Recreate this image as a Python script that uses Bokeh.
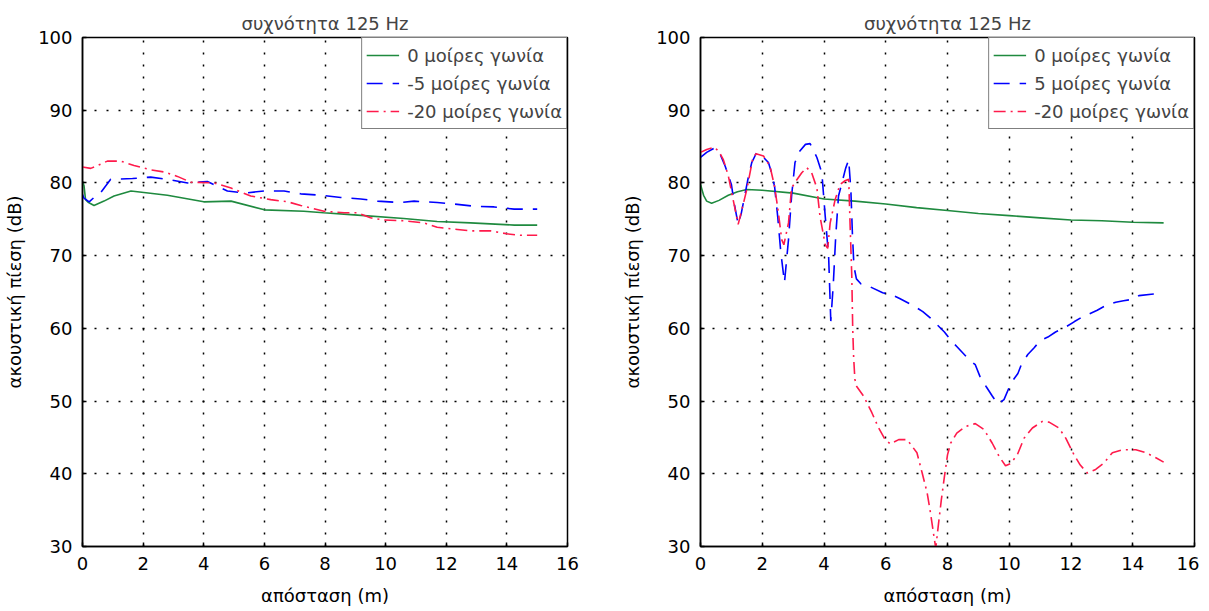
from bokeh.plotting import figure
from bokeh.layouts import row
from bokeh.models import Range1d, Legend, LegendItem, FixedTicker
from bokeh.embed import file_html
from bokeh.resources import INLINE

# ---------------- data ----------------
title_text = "συχνότητα 125 Hz"
x_label = "απόσταση (m)"
y_label = "ακουστική πίεση (dB)"
x_ticks = [0, 2, 4, 6, 8, 10, 12, 14, 16]
y_ticks = [30, 40, 50, 60, 70, 80, 90, 100]

# left panel
L_labels = ["0 μοίρες γωνία", "-5 μοίρες γωνία", "-20 μοίρες γωνία"]
L0_x = [0.0, 0.05, 0.1, 0.2, 0.38, 0.71, 1.04, 1.6, 2.8, 4.0, 4.9, 6.0, 7.3, 7.95, 8.96, 10.6, 11.7, 12.8, 14.25, 15.0]
L0_y = [80.2, 79.6, 77.7, 77.3, 76.9, 77.5, 78.2, 78.9, 78.3, 77.4, 77.5, 76.3, 76.1, 75.9, 75.6, 75.1, 74.7, 74.5, 74.2, 74.2]
L5_x = [0.0, 0.05, 0.22, 0.38, 0.55, 0.93, 1.65, 2.25, 2.8, 3.47, 4.12, 4.78, 5.33, 6.0, 6.65, 7.2, 7.87, 8.52, 9.18,
        9.73, 10.5, 10.94, 11.7, 12.26, 12.9, 13.58, 14.24, 15.0]
L5_y = [78.4, 77.9, 77.4, 78.0, 78.4, 80.5, 80.6, 80.8, 80.5, 80.0, 80.2, 78.9, 78.6, 78.9, 78.9, 78.5, 78.3, 78.0, 77.8,
        77.5, 77.3, 77.5, 77.3, 77.1, 76.8, 76.7, 76.4, 76.4]
L20_x = [0.0, 0.27, 0.5, 0.82, 1.26, 1.7, 2.25, 2.7, 3.13, 3.57, 4.34, 4.9, 5.55, 6.21, 6.77, 7.2, 7.97, 8.63, 9.07,
         9.5, 9.95, 10.6, 11.27, 11.7, 12.37, 12.8, 13.47, 14.0, 14.46, 15.0]
L20_y = [82.2, 82.0, 82.4, 83.0, 83.0, 82.4, 81.8, 81.5, 80.9, 80.1, 80.0, 79.3, 78.2, 77.7, 77.4, 76.9, 76.1, 75.9, 75.9,
         75.2, 74.9, 74.8, 74.5, 73.9, 73.6, 73.4, 73.4, 73.0, 72.8, 72.8]

# right panel
R_labels = ["0 μοίρες γωνία", "5 μοίρες γωνία", "-20 μοίρες γωνία"]
R0_x = [0.0, 0.1, 0.2, 0.36, 0.6, 0.9, 1.2, 1.5, 2.0, 3.0, 4.0, 5.0, 6.0, 7.0, 8.0, 9.0, 10.0, 11.0, 12.0, 13.0, 14.0, 15.0]
R0_y = [79.8, 78.3, 77.5, 77.2, 77.6, 78.3, 78.8, 79.1, 79.0, 78.6, 77.8, 77.5, 77.1, 76.6, 76.2, 75.8, 75.5, 75.2,
        74.9, 74.8, 74.6, 74.5]
R5_x = [0.0, 0.2, 0.45, 0.65, 0.8, 1.0, 1.1, 1.22, 1.32, 1.43, 1.55, 1.66, 1.82, 2.0, 2.2, 2.3, 2.4, 2.5, 2.6, 2.72,
        2.85, 2.95, 3.06, 3.2, 3.4, 3.55, 3.77, 3.93, 4.04, 4.15, 4.22, 4.3, 4.38, 4.47, 4.58, 4.7, 4.8, 4.87, 4.92,
        4.97, 5.05, 5.2, 5.35, 5.9, 6.2, 6.45, 6.9, 7.2, 7.45, 7.9, 8.1, 8.3, 8.7, 8.9, 9.05, 9.25, 9.45, 9.63, 9.83,
        10.06, 10.28, 10.4, 10.6, 10.8, 11.0, 11.25, 11.5, 11.8, 12.1, 12.3, 12.6, 12.85, 13.15, 13.45, 13.7, 14.0,
        14.2, 14.6, 15.0]
R5_y = [83.5, 84.2, 84.8, 83.8, 82.3, 79.8, 77.0, 74.3, 75.8, 78.2, 80.8, 82.8, 84.2, 83.7, 82.8, 81.4, 79.5, 75.4,
        70.5, 66.3, 72.2, 78.2, 82.8, 84.3, 85.3, 85.4, 83.5, 81.4, 75.4, 69.9, 61.0, 66.0, 72.7, 78.2, 80.0, 82.0,
        83.2, 79.0, 73.0, 68.5, 66.8, 66.1, 66.0, 64.9, 64.6, 64.1, 63.1, 62.3, 61.4, 59.5, 58.4, 57.5, 55.7, 55.0,
        53.4, 52.0, 50.7, 49.6, 50.2, 52.5, 53.8, 55.1, 56.4, 57.3, 58.3, 58.8, 59.5, 60.1, 60.9, 61.4, 62.0, 62.5,
        63.2, 63.6, 63.8, 64.0, 64.5, 64.7, 64.8]
R20_x = [0.0, 0.2, 0.45, 0.6, 0.74, 0.9, 1.1, 1.22, 1.35, 1.5, 1.7, 1.8, 2.04, 2.25, 2.4, 2.52, 2.63, 2.7, 2.85, 2.95,
         3.1, 3.28, 3.44, 3.6, 3.77, 3.87, 4.04, 4.12, 4.2, 4.36, 4.52, 4.68, 4.8, 4.85, 4.9, 4.93, 4.96, 5.0, 5.06,
         5.28, 5.55, 5.77, 5.98, 6.15, 6.42, 6.69, 7.01, 7.18, 7.34, 7.45, 7.56, 7.62, 7.7, 7.8, 7.9, 8.0, 8.1, 8.3,
         8.58, 8.9, 9.18, 9.45, 9.67, 9.88, 10.04, 10.26, 10.48, 10.75, 11.07, 11.29, 11.61, 11.83, 12.1, 12.3, 12.53,
         12.8, 13.07, 13.34, 13.67, 14.1, 14.43, 14.75, 15.0]
R20_y = [84.2, 84.6, 84.9, 84.3, 83.2, 81.0, 76.8, 74.3, 76.5, 79.1, 83.5, 84.0, 83.7, 82.3, 79.5, 76.0, 72.2, 71.5,
         74.5, 79.3, 80.3, 81.4, 82.1, 81.4, 79.3, 75.4, 71.5, 71.0, 74.5, 77.7, 79.8, 80.3, 80.5, 73.6, 67.2, 60.0,
         56.0, 53.0, 52.0, 50.7, 48.4, 46.3, 44.7, 44.1, 44.7, 44.7, 42.9, 40.1, 37.4, 34.6, 31.4, 29.8, 32.8, 36.4,
         39.6, 42.6, 44.2, 45.6, 46.5, 46.9, 46.1, 44.2, 42.4, 41.1, 41.4, 42.6, 44.9, 46.3, 47.2, 47.1, 46.3, 44.9,
         42.6, 41.2, 40.1, 40.6, 41.5, 42.9, 43.3, 43.3, 42.9, 42.2, 41.6]

GREEN = "#1f8a3f"
BLUE = "#0000ff"
RED = "#ff1a4b"
FONT = "DejaVu Sans"
FS = "18px"


def style_axis(ax):
    ax.major_tick_in = 4
    ax.major_tick_out = 0
    ax.minor_tick_line_color = None
    ax.axis_line_width = 1.5
    ax.major_tick_line_width = 1.5
    ax.major_label_text_font = FONT
    ax.major_label_text_font_size = FS
    ax.major_label_text_color = "black"
    ax.axis_label_text_font = FONT
    ax.axis_label_text_font_size = FS
    ax.axis_label_text_font_style = "normal"
    ax.axis_label_text_color = "black"


def make_panel(frame_w, border_right, series, labels):
    p = figure(frame_width=frame_w, frame_height=509,
               min_border_left=82, min_border_right=border_right,
               min_border_top=37, min_border_bottom=64,
               x_range=Range1d(0, 16), y_range=Range1d(30, 100),
               output_backend="svg", toolbar_location=None,
               title=title_text)
    p.background_fill_color = "white"
    p.border_fill_color = "white"
    p.outline_line_color = "black"
    p.outline_line_width = 1.5

    p.title.align = "center"
    p.title.text_font = FONT
    p.title.text_font_size = FS
    p.title.text_font_style = "normal"
    p.title.standoff = 8

    p.xaxis.ticker = FixedTicker(ticks=x_ticks)
    p.yaxis.ticker = FixedTicker(ticks=y_ticks)
    p.xaxis.axis_label = x_label
    p.yaxis.axis_label = y_label
    style_axis(p.xaxis[0])
    style_axis(p.yaxis[0])
    p.xaxis.major_label_standoff = 10
    p.xaxis.axis_label_standoff = 12
    p.yaxis.major_label_standoff = 10
    p.yaxis.axis_label_standoff = 10

    for g in (p.xgrid[0], p.ygrid[0]):
        g.grid_line_color = "black"
        g.grid_line_dash = "2 10"
        g.grid_line_width = 1.5
        g.grid_line_alpha = 1.0

    items = []
    styles = [(GREEN, "solid"), (BLUE, "16 10"), (RED, "12 5 2 5")]
    for (xs, ys), lab, (col, dash) in zip(series, labels, styles):
        r = p.line(xs, ys, line_color=col, line_width=1.6, line_dash=dash)
        items.append(LegendItem(label=lab, renderers=[r]))

    leg = Legend(items=items, location="top_right")
    leg.border_line_color = "black"
    leg.border_line_width = 1.5
    leg.background_fill_color = "white"
    leg.background_fill_alpha = 1.0
    leg.margin = 0
    leg.padding = 4
    leg.spacing = 2
    leg.label_height = 26
    leg.glyph_height = 26
    leg.glyph_width = 33
    leg.label_standoff = 8
    leg.label_text_font = FONT
    leg.label_text_font_size = FS
    p.add_layout(leg)
    return p


p1 = make_panel(485, 51, [(L0_x, L0_y), (L5_x, L5_y), (L20_x, L20_y)], L_labels)
p2 = make_panel(494, 5, [(R0_x, R0_y), (R5_x, R5_y), (R20_x, R20_y)], R_labels)

layout = row(p1, p2)
open("out.html", "w").write(file_html(layout, INLINE))
